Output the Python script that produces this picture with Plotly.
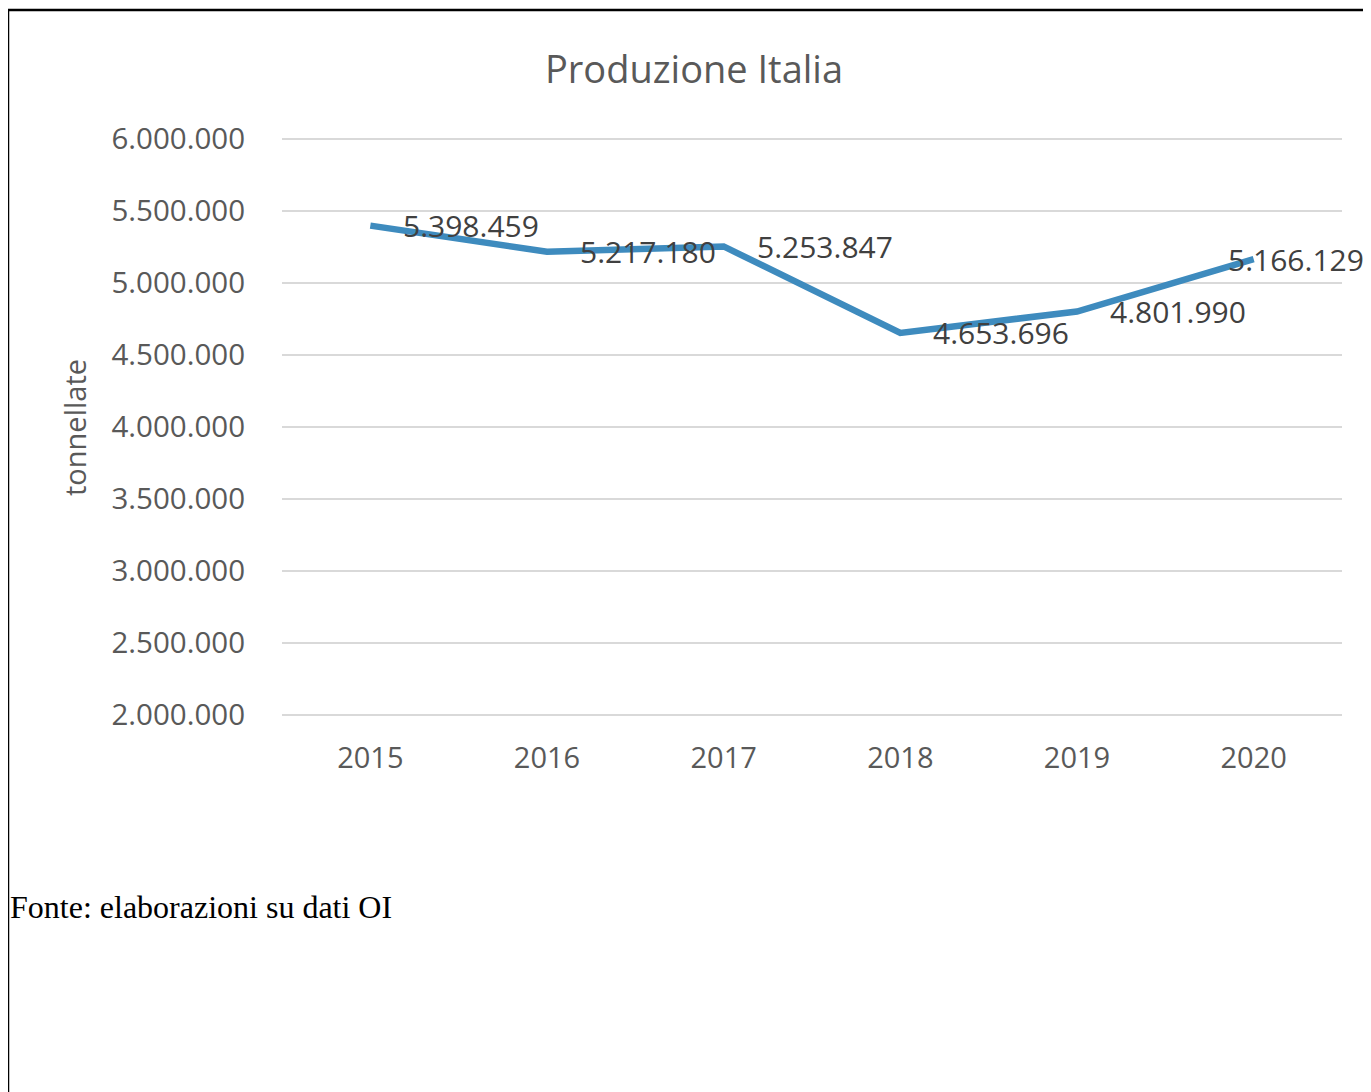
import plotly.graph_objects as go

years = ["2015", "2016", "2017", "2018", "2019", "2020"]
production = [5398459, 5217180, 5253847, 4653696, 4801990, 5166129]
label_shift = [31, 31, 31, 31, 31, -28]

W, H = 1371, 1092
OFF = 8  # page body margin
def px(x): return (x - OFF) / W
def py(y): return 1 - (y - OFF) / H

ymin, ymax = 2_000_000, 6_000_000
pad = 20_000
scale = (715 - 139) / (ymax - ymin)
top_px = 139 - pad * scale
bot_px = 715 + pad * scale

grey = "#595959"
FONT = "Open Sans"
fig = go.Figure()
fig.add_trace(go.Scatter(
    x=years, y=production, mode="lines",
    line=dict(color="#3E8BBE", width=6.5),
    hoverinfo="skip", showlegend=False,
))

def fmt(v):
    return f"{v:,}".replace(",", ".")

for i, (v, sh) in enumerate(zip(production, label_shift)):
    fig.add_annotation(x=i, y=v, xref="x", yref="y", text=fmt(v),
                       showarrow=False, xanchor="left", yanchor="middle",
                       xshift=sh, yshift=0,
                       font=dict(family=FONT, size=30, color="#404040"))

fig.add_annotation(x=px(75), y=py(428), xref="paper", yref="paper",
                   text="tonnellate", textangle=-90, showarrow=False,
                   xanchor="center", yanchor="middle",
                   font=dict(family=FONT, size=29, color=grey))

fig.add_annotation(x=px(8), y=py(907), xref="paper", yref="paper",
                   text="Fonte: elaborazioni su dati OI", showarrow=False,
                   xanchor="left", yanchor="middle",
                   font=dict(family="Liberation Serif", size=32, color="black"))

fig.add_shape(type="rect", xref="paper", yref="paper",
              x0=px(8), y0=py(10), x1=1.05, y1=-0.05,
              line=dict(color="black", width=2.5), fillcolor="rgba(0,0,0,0)")

fig.update_layout(
    width=W, height=H,
    margin=dict(l=0, r=0, t=0, b=0, pad=0, autoexpand=False),
    paper_bgcolor="white", plot_bgcolor="white",
    separators=",.",
    title=dict(text="Produzione Italia", x=px(694), xanchor="center",
               y=py(70), yanchor="middle", xref="paper", yref="paper",
               font=dict(family=FONT, size=38, color=grey)),
    xaxis=dict(type="category", domain=[px(282), px(1342)], range=[-0.5, 5.5],
               showgrid=False, showline=False, zeroline=False, automargin=False,
               ticks="", ticklabelstandoff=20,
               tickfont=dict(family=FONT, size=29, color=grey)),
    yaxis=dict(domain=[py(bot_px), py(top_px)], range=[ymin - pad, ymax + pad],
               tickvals=[2e6, 2.5e6, 3e6, 3.5e6, 4e6, 4.5e6, 5e6, 5.5e6, 6e6],
               tickformat=",d", automargin=False,
               showgrid=True, gridcolor="#D9D9D9", gridwidth=2,
               zeroline=False, showline=False, ticks="", ticklabelstandoff=36,
               tickfont=dict(family=FONT, size=29.5, color=grey)),
)

fig.write_html("out.html")
